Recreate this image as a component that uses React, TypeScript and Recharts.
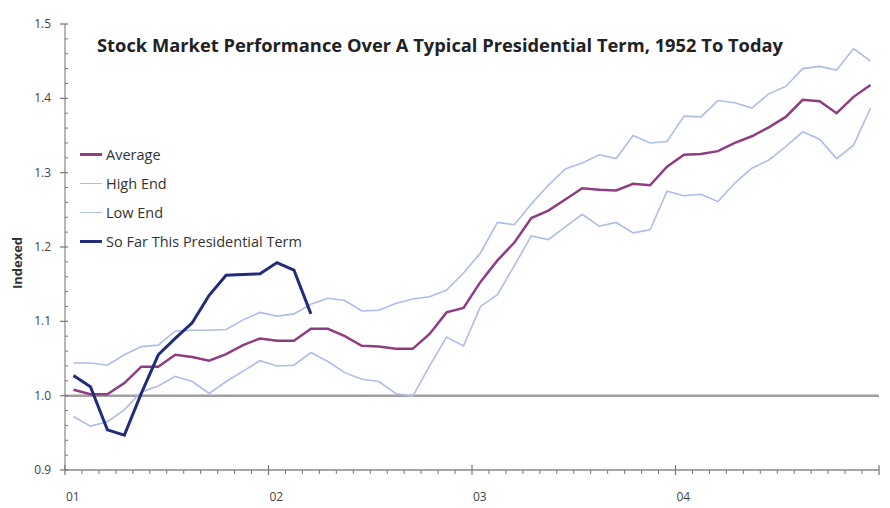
import React from 'react'
import { LineChart, Line, XAxis, YAxis, ReferenceLine } from 'recharts'

// monthly index over a 48 month term
const average = [
  1.008, 1.002, 1.002, 1.017, 1.039, 1.039, 1.055, 1.052, 1.047, 1.056, 1.068, 1.077,
  1.074, 1.074, 1.090, 1.090, 1.080, 1.067, 1.066, 1.063, 1.063, 1.083, 1.112, 1.118,
  1.153, 1.182, 1.206, 1.239, 1.249, 1.264, 1.279, 1.277, 1.276, 1.285, 1.283, 1.308,
  1.324, 1.325, 1.329, 1.340, 1.349, 1.361, 1.375, 1.398, 1.396, 1.380, 1.402, 1.418,
]
const highEnd = [
  1.044, 1.044, 1.041, 1.055, 1.066, 1.068, 1.087, 1.088, 1.088, 1.089, 1.102, 1.112,
  1.107, 1.110, 1.123, 1.131, 1.128, 1.114, 1.115, 1.124, 1.130, 1.133, 1.142, 1.165,
  1.192, 1.233, 1.230, 1.258, 1.283, 1.305, 1.313, 1.324, 1.319, 1.350, 1.340, 1.342,
  1.376, 1.375, 1.397, 1.394, 1.387, 1.406, 1.416, 1.440, 1.443, 1.438, 1.467, 1.450,
]
const lowEnd = [
  0.972, 0.959, 0.965, 0.981, 1.005, 1.013, 1.026, 1.019, 1.003, 1.019, 1.033, 1.047,
  1.040, 1.041, 1.058, 1.046, 1.031, 1.022, 1.019, 1.003, 0.999, 1.040, 1.079, 1.067,
  1.120, 1.136, 1.175, 1.215, 1.210, 1.227, 1.244, 1.228, 1.233, 1.219, 1.223, 1.275,
  1.269, 1.271, 1.261, 1.286, 1.306, 1.317, 1.335, 1.355, 1.345, 1.319, 1.337, 1.387,
]
const soFar = [
  1.027, 1.012, 0.954, 0.947, 1.003, 1.055, 1.077, 1.098, 1.135, 1.162, 1.163, 1.164,
  1.179, 1.169, 1.110,
]
const yearLabels = ['01', '02', '03', '04']
const yLabels = [0.9, 1.0, 1.1, 1.2, 1.3, 1.4, 1.5]

const data = average.map((v, i) => ({
  x: i + 0.5,
  average: v,
  high: highEnd[i],
  low: lowEnd[i],
  soFar: i < soFar.length ? soFar[i] : null,
}))

const xTicks = Array.from({ length: 49 }, (_, i) => i)
const yTicks = Array.from({ length: 31 }, (_, i) => Math.round((0.9 + i * 0.02) * 100) / 100)

const font = '"Open Sans", "DejaVu Sans", sans-serif'

const series = [
  { key: 'average', name: 'Average', color: '#8f3d80', width: 2.5 },
  { key: 'high', name: 'High End', color: '#aebde8', width: 1.6 },
  { key: 'low', name: 'Low End', color: '#aebde8', width: 1.6 },
  { key: 'soFar', name: 'So Far This Presidential Term', color: '#222b7c', width: 3 },
]

function XTick({ x, y, payload }: any) {
  const i = payload.value
  const major = i % 12 === 0
  return (
    <g>
      {major
        ? <line x1={x} x2={x} y1={y - 5} y2={y + 5} stroke="#777" strokeWidth={1.2} />
        : <line x1={x} x2={x} y1={y} y2={y + 4} stroke="#777" strokeWidth={1} />}
      {major && i < 48 && (
        <text x={x + 1} y={y + 31} fontSize={12} fill="#444" fontFamily={font}>
          {yearLabels[i / 12]}
        </text>
      )}
    </g>
  )
}

function YTick({ x, y, payload }: any) {
  const v = payload.value
  const lbl = yLabels.find(l => Math.abs(l - v) < 1e-6)
  return (
    <g>
      {lbl !== undefined
        ? <line x1={x - 5} x2={x + 3} y1={y} y2={y} stroke="#777" strokeWidth={1.2} />
        : <line x1={x} x2={x + 3} y1={y} y2={y} stroke="#777" strokeWidth={1} />}
      {lbl !== undefined && (
        <text x={x - 14} y={y + 4} textAnchor="end" fontSize={12} fill="#444" fontFamily={font}>
          {lbl.toFixed(1)}
        </text>
      )}
    </g>
  )
}

export default function App() {
  return (
    <div style={{ position: 'absolute', left: 0, top: 0, width: 890, height: 508, background: '#fff' }}>
      <LineChart width={890} height={508} data={data} margin={{ top: 24, right: 11, left: 0, bottom: 0 }}>
        <XAxis
          dataKey="x" type="number" domain={[0, 48]} ticks={xTicks} interval={0}
          height={38} tickSize={0} tickMargin={0} tick={<XTick />}
          axisLine={{ stroke: '#888', strokeWidth: 1.5 }}
        />
        <YAxis
          type="number" domain={[0.9, 1.5]} ticks={yTicks} interval={0}
          width={65} tickSize={0} tickMargin={0} tick={<YTick />}
          axisLine={{ stroke: '#888', strokeWidth: 1.2 }}
        />
        <ReferenceLine y={1} stroke="#a0a0a0" strokeWidth={2.5} />
        {series.map(s => (
          <Line
            key={s.key} dataKey={s.key} name={s.name} stroke={s.color} strokeWidth={s.width}
            dot={false} activeDot={false} isAnimationActive={false} type="linear"
          />
        ))}
      </LineChart>
      <div style={{ position: 'absolute', left: 80, top: 140, fontFamily: font, fontSize: 14.5, color: '#333' }}>
        {series.map(s => (
          <div key={s.key} style={{ display: 'flex', alignItems: 'center', height: 29 }}>
            <div style={{ width: 22, height: s.width, background: s.color, marginRight: 4 }} />
            <span>{s.name}</span>
          </div>
        ))}
      </div>
      <svg width={890} height={508} style={{ position: 'absolute', left: 0, top: 0, pointerEvents: 'none' }}>
        <text
          x={440} y={52} textAnchor="middle" fontSize={17} fontWeight="bold" fill="#222"
          fontFamily={font} textLength={686} lengthAdjust="spacingAndGlyphs"
        >
          Stock Market Performance Over A Typical Presidential Term, 1952 To Today
        </text>
        <text
          x={0} y={0} transform="translate(22,263) rotate(-90)" textAnchor="middle"
          fontSize={13} fontWeight="bold" fill="#333" fontFamily={font}
        >
          Indexed
        </text>
      </svg>
    </div>
  )
}
